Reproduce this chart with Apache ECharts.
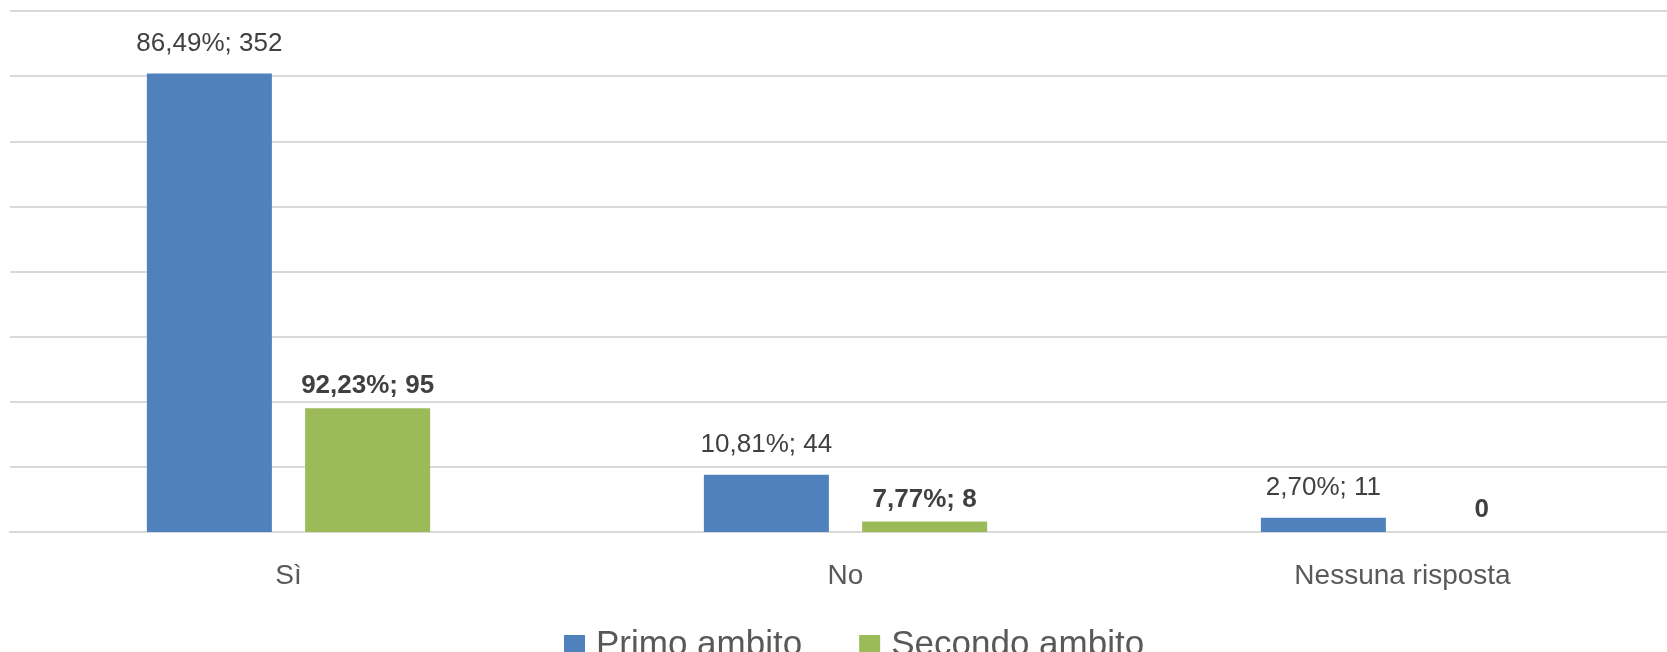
<!DOCTYPE html>
<html>
<head>
<meta charset="utf-8">
<script src="https://cdn.jsdelivr.net/npm/echarts@6/dist/echarts.min.js"></script>
<style>
  html, body { margin: 0; padding: 0; background: #fff; }
  #main { width: 1667px; height: 652px; }
</style>
</head>
<body>
<div id="main"></div>
<script>
var categories = ['Sì', 'No', 'Nessuna risposta'];
var primoValues = [352, 44, 11];
var primoPerc = ['86,49%', '10,81%', '2,70%'];
var secondoValues = [95, 8, 0];
var secondoPerc = ['92,23%', '7,77%', null];

var FONT = '"Liberation Sans", Arial, sans-serif';

function labelText(percs) {
  return function (p) {
    var pc = percs[p.dataIndex];
    return pc ? pc + '; ' + p.value : String(p.value);
  };
}

var myChart = echarts.init(document.getElementById('main'));
myChart.setOption({
  animation: false,
  grid: { left: 10, width: 1671, top: 11, bottom: 120, outerBoundsMode: 'none', containLabel: false },
  legend: {
    data: ['Primo ambito', 'Secondo ambito'],
    left: 559,
    top: 623,
    icon: 'rect',
    itemWidth: 21,
    itemHeight: 21,
    itemGap: 57,
    textStyle: { fontFamily: FONT, fontSize: 35, color: '#595959', padding: [0, 0, 0, 6] }
  },
  xAxis: {
    type: 'category',
    data: categories,
    axisLine: { show: true, lineStyle: { color: '#d9d9d9', width: 2 } },
    axisTick: { show: false },
    axisLabel: { fontFamily: FONT, fontSize: 28, color: '#595959', margin: 30 }
  },
  yAxis: {
    type: 'value',
    min: 0,
    max: 400,
    interval: 50,
    axisLabel: { show: false },
    axisLine: { show: false },
    axisTick: { show: false },
    splitLine: { lineStyle: { color: '#d9d9d9', width: 2 } }
  },
  series: [
    {
      name: 'Primo ambito',
      type: 'bar',
      data: primoValues,
      barWidth: 125,
      barGap: '26.6%',
      itemStyle: { color: '#4f81bd' },
      label: {
        show: true,
        position: 'top',
        distance: 17,
        fontFamily: FONT,
        fontSize: 26,
        color: '#404040',
        formatter: labelText(primoPerc)
      }
    },
    {
      name: 'Secondo ambito',
      type: 'bar',
      data: secondoValues,
      barWidth: 125,
      itemStyle: { color: '#9bbb59' },
      label: {
        show: true,
        position: 'top',
        distance: 9,
        fontFamily: FONT,
        fontSize: 26,
        fontWeight: 'bold',
        color: '#404040',
        formatter: labelText(secondoPerc)
      }
    }
  ]
});
</script>
</body>
</html>
